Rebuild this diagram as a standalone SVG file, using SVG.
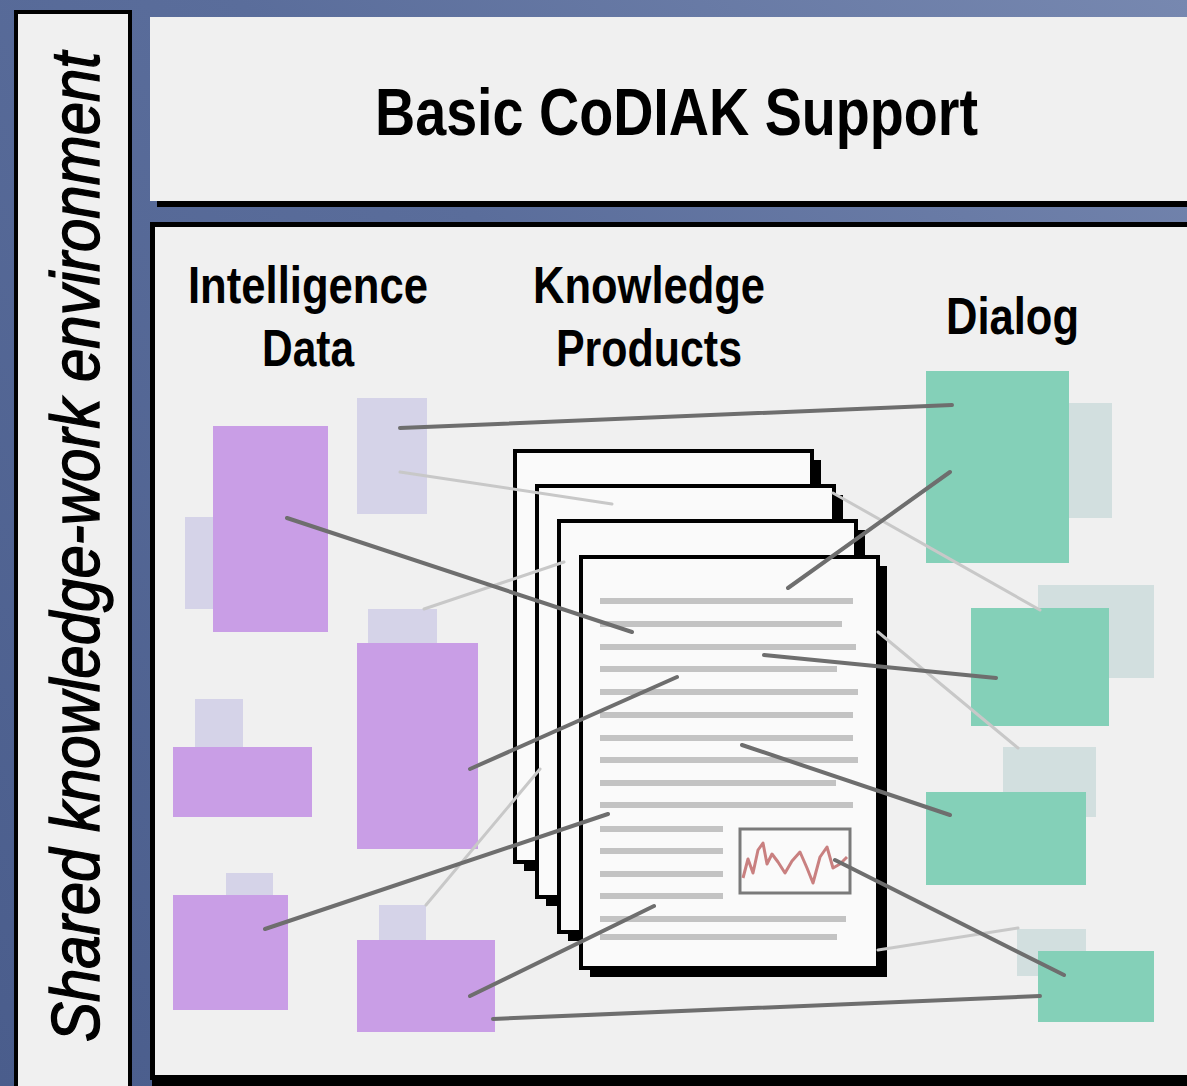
<svg xmlns="http://www.w3.org/2000/svg" width="1187" height="1086" viewBox="0 0 1187 1086">
<defs>
<linearGradient id="bg" x1="0" y1="1" x2="1" y2="0">
<stop offset="0" stop-color="#4a5d8c"/>
<stop offset="0.6" stop-color="#5a6d9b"/>
<stop offset="1" stop-color="#7788b0"/>
</linearGradient>
</defs>
<style>
.panel{fill:#f0f0f0}
.lbl{font-family:"Liberation Sans Narrow","Liberation Sans",Arial,sans-serif;font-weight:bold;fill:#000}
.vert{font-family:"Liberation Sans Narrow","Liberation Sans",Arial,sans-serif;font-weight:normal;font-style:italic;fill:#000;stroke:#000;stroke-width:1.4}
.purple{fill:#c99ee6}
.lav{fill:#d5d3e8}
.green{fill:#84d0b8}
.ghost{fill:#d2dfdf}
.page{fill:#fafafa;stroke:#000;stroke-width:4}
.shadow{fill:#000}
.tl{stroke:#c3c3c3;stroke-width:6}
.dark{stroke:#6e6e6e;stroke-width:4;stroke-linecap:round}
.light{stroke:#c8c8c8;stroke-width:3;stroke-linecap:round}
</style>
<rect x="0" y="0" width="1187" height="1086" fill="url(#bg)"/>

<g id="side-panel">
<rect x="16" y="12" width="114" height="1090" class="panel" stroke="#000" stroke-width="4"/>
<text class="vert" transform="translate(99,1042) rotate(-90)" font-size="68" textLength="990" lengthAdjust="spacingAndGlyphs">Shared knowledge-work environment</text>
</g>

<g id="top-panel">
<rect x="157" y="24" width="1100" height="183" class="shadow"/>
<rect x="150" y="17" width="1100" height="184" class="panel"/>
<text class="lbl" x="375" y="135" font-size="66" textLength="603" lengthAdjust="spacingAndGlyphs">Basic CoDIAK Support</text>
</g>

<g id="main-panel">
<rect x="152" y="1076" width="1100" height="12" class="shadow"/>
<rect x="152.5" y="224.5" width="1100" height="853" class="panel" stroke="#000" stroke-width="5"/>
<text class="lbl" x="188" y="303" font-size="52" textLength="240" lengthAdjust="spacingAndGlyphs">Intelligence</text>
<text class="lbl" x="262" y="366" font-size="52" textLength="92" lengthAdjust="spacingAndGlyphs">Data</text>
<text class="lbl" x="533" y="303" font-size="52" textLength="232" lengthAdjust="spacingAndGlyphs">Knowledge</text>
<text class="lbl" x="556" y="366" font-size="52" textLength="186" lengthAdjust="spacingAndGlyphs">Products</text>
<text class="lbl" x="946" y="334" font-size="52" textLength="133" lengthAdjust="spacingAndGlyphs">Dialog</text>
</g>

<g id="intel-a"><rect class="lav" x="357" y="398" width="70" height="116"/></g>
<g id="intel-b"><rect class="lav" x="185" y="517" width="30" height="92"/><rect class="purple" x="213" y="426" width="115" height="206"/></g>
<g id="intel-c"><rect class="lav" x="368" y="609" width="69" height="35"/><rect class="purple" x="357" y="643" width="121" height="206"/></g>
<g id="intel-d"><rect class="lav" x="195" y="699" width="48" height="49"/><rect class="purple" x="173" y="747" width="139" height="70"/></g>
<g id="intel-e"><rect class="lav" x="226" y="873" width="47" height="23"/><rect class="purple" x="173" y="895" width="115" height="115"/></g>
<g id="intel-f"><rect class="lav" x="379" y="905" width="47" height="36"/><rect class="purple" x="357" y="940" width="138" height="92"/></g>

<g id="dialog-1"><rect class="ghost" x="1069" y="403" width="43" height="115"/><rect class="green" x="926" y="371" width="143" height="192"/></g>
<g id="dialog-2"><rect class="ghost" x="1038" y="585" width="116" height="93"/><rect class="green" x="971" y="608" width="138" height="118"/></g>
<g id="dialog-3"><rect class="ghost" x="1003" y="747" width="93" height="70"/><rect class="green" x="926" y="792" width="160" height="93"/></g>
<g id="dialog-4"><rect class="ghost" x="1017" y="929" width="69" height="47"/><rect class="green" x="1038" y="951" width="116" height="71"/></g>

<g id="knowledge-products">
<rect class="shadow" x="524" y="460" width="297" height="411"/>
<rect class="page" x="515" y="451" width="297" height="411"/>
<rect class="shadow" x="546" y="495" width="297" height="411"/>
<rect class="page" x="537" y="486" width="297" height="411"/>
<rect class="shadow" x="568" y="530" width="297" height="411"/>
<rect class="page" x="559" y="521" width="297" height="411"/>
<rect class="shadow" x="590" y="566" width="297" height="411"/>
<rect class="page" x="581" y="557" width="297" height="411"/>
<g class="tl">
<line x1="600" y1="601" x2="853" y2="601"/>
<line x1="600" y1="624" x2="842" y2="624"/>
<line x1="600" y1="647" x2="856" y2="647"/>
<line x1="600" y1="669" x2="837" y2="669"/>
<line x1="600" y1="692" x2="858" y2="692"/>
<line x1="600" y1="715" x2="853" y2="715"/>
<line x1="600" y1="738" x2="853" y2="738"/>
<line x1="600" y1="760" x2="858" y2="760"/>
<line x1="600" y1="783" x2="836" y2="783"/>
<line x1="600" y1="805" x2="853" y2="805"/>
<line x1="600" y1="829" x2="723" y2="829"/>
<line x1="600" y1="851" x2="723" y2="851"/>
<line x1="600" y1="874" x2="723" y2="874"/>
<line x1="600" y1="896" x2="723" y2="896"/>
<line x1="600" y1="919" x2="846" y2="919"/>
<line x1="600" y1="937" x2="837" y2="937"/>
</g>
<rect x="740" y="829" width="110" height="64" fill="#fafafa" stroke="#7a7a7a" stroke-width="3"/>
<polyline fill="none" stroke="#c98080" stroke-width="3" stroke-linejoin="round" points="743,878 748,859 753,873 758,850 763,843 767,864 772,854 778,862 785,873 792,861 800,852 807,868 813,883 820,857 827,847 833,868 840,864 847,857"/>
</g>

<g id="connectors">
<line class="light" x1="400" y1="472" x2="612" y2="504"/>
<line class="light" x1="424" y1="609" x2="564" y2="562"/>
<line class="light" x1="833" y1="493" x2="1040" y2="610"/>
<line class="light" x1="878" y1="632" x2="1018" y2="748"/>
<line class="light" x1="540" y1="769" x2="426" y2="905"/>
<line class="light" x1="878" y1="950" x2="1018" y2="928"/>
<line class="dark" x1="400" y1="428" x2="952" y2="405"/>
<line class="dark" x1="287" y1="518" x2="632" y2="632"/>
<line class="dark" x1="950" y1="472" x2="788" y2="588"/>
<line class="dark" x1="764" y1="655" x2="996" y2="678"/>
<line class="dark" x1="677" y1="677" x2="470" y2="769"/>
<line class="dark" x1="742" y1="745" x2="950" y2="815"/>
<line class="dark" x1="608" y1="814" x2="265" y2="929"/>
<line class="dark" x1="835" y1="860" x2="1064" y2="975"/>
<line class="dark" x1="654" y1="906" x2="470" y2="996"/>
<line class="dark" x1="493" y1="1019" x2="1040" y2="996"/>
</g>
</svg>
